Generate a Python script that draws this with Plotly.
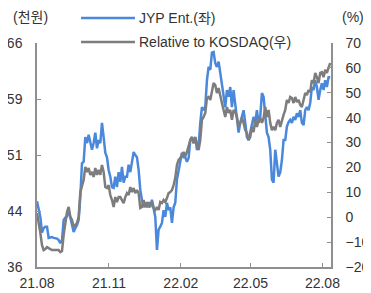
import pandas as pd
import plotly.graph_objects as go

# JYP Ent. share price (thousand KRW, left axis)
jyp = [44.8, 43.6, 42.7, 40.6, 41.2, 41.4, 41.4, 39.9, 40.0, 40.0,
       39.9, 39.9, 39.8, 39.6, 39.2, 39.6, 42.3, 42.6, 42.8, 43.6,
       42.7, 41.9, 40.7, 41.2, 41.6, 42.3, 45.4, 49.9, 50.1, 53.4,
       52.6, 53.7, 52.7, 51.7, 52.6, 54.0, 51.9, 53.0, 52.6, 55.3,
       53.4, 51.3, 50.7, 49.0, 48.1, 46.7, 46.6, 48.1, 46.7, 48.7,
       47.4, 49.4, 47.3, 48.1, 48.1, 49.7, 48.7, 49.9, 51.4, 51.0,
       50.7, 49.0, 46.3, 45.0, 44.0, 44.6, 44.0, 44.7, 44.0, 45.0,
       43.6, 42.7, 38.3, 41.0, 41.4, 41.9, 43.6, 42.7, 44.6, 43.6,
       44.0, 41.9, 44.0, 44.6, 47.7, 49.0, 50.3, 51.3, 50.7, 50.7,
       50.1, 50.6, 53.0, 53.4, 52.6, 53.4, 51.7, 52.1, 55.3, 57.4,
       57.0, 57.4, 61.0, 62.8, 62.4, 64.7, 64.8, 63.3, 62.8, 63.5,
       62.0, 60.6, 59.3, 57.4, 59.7, 58.8, 60.1, 57.4, 59.7, 58.0,
       55.7, 54.0, 55.3, 56.1, 57.0, 55.3, 53.4, 53.0, 54.0, 54.8,
       56.1, 55.3, 57.0, 55.3, 56.1, 59.3, 58.8, 56.4, 54.0, 53.4,
       51.7, 47.7, 47.3, 51.7, 49.7, 48.1, 48.7, 50.3, 53.0, 53.0,
       54.8, 55.4, 55.7, 55.3, 56.1, 55.7, 56.6, 56.1, 57.0, 55.3,
       55.0, 57.0, 57.4, 57.0, 58.0, 60.1, 59.7, 61.0, 60.1, 58.4,
       59.7, 60.6, 59.7, 61.0, 60.1, 61.4, 61.4]

# Relative return vs KOSDAQ (%, right axis)
rel = [1.7, -1.9, -6.3, -11.2, -13.2, -12.8, -12.0, -12.4, -12.8, -13.2,
       -13.2, -13.2, -13.2, -13.2, -14.0, -13.6, -7.1, -3.1, 2.1, 4.1,
       0.1, -1.1, -3.9, -3.1, -2.3, 0.1, 10.1, 12.5, 15.0, 20.2,
       18.2, 19.8, 17.0, 18.2, 16.2, 19.8, 17.0, 19.0, 17.0, 21.0,
       18.2, 12.1, 11.7, 12.9, 8.9, 6.9, 4.1, 8.1, 6.1, 8.1,
       8.1, 6.9, 5.7, 8.1, 9.7, 8.9, 12.1, 10.1, 11.7, 9.7,
       10.9, 9.7, 3.7, 4.1, 6.9, 4.1, 6.1, 4.1, 4.9, 6.1,
       3.7, 2.9, 4.1, 2.9, 6.1, 5.7, 6.9, 6.1, 7.7, 9.7,
       10.1, 10.9, 12.9, 15.8, 21.0, 23.0, 23.8, 25.0, 26.2, 24.6,
       26.2, 28.6, 31.0, 32.2, 29.8, 32.2, 29.0, 27.0, 31.0, 39.1,
       40.3, 41.9, 47.9, 48.3, 47.1, 51.1, 53.9, 53.1, 49.9, 51.9,
       48.3, 45.9, 43.1, 40.3, 44.3, 41.9, 43.1, 39.1, 43.1, 42.3,
       40.3, 36.3, 37.9, 39.9, 37.9, 35.0, 33.8, 31.0, 32.2, 36.3,
       34.2, 39.1, 36.3, 39.1, 39.9, 37.9, 39.9, 44.3, 40.3, 43.1,
       37.9, 35.0, 36.3, 35.0, 37.9, 39.1, 36.3, 39.1, 41.1, 43.1,
       47.1, 45.9, 48.3, 47.9, 45.9, 48.3, 46.3, 47.1, 45.1, 44.3,
       47.1, 49.9, 49.1, 51.1, 50.3, 55.1, 53.9, 58.0, 56.3, 53.9,
       58.0, 58.3, 56.3, 59.2, 58.0, 60.4, 62.0]

dates = pd.date_range("2021-08-01", "2022-08-11", periods=len(jyp))

x_tickvals = ["2021-08-01", "2021-11-01", "2022-02-01", "2022-05-01", "2022-08-01"]
x_ticktext = ["21.08", "21.11", "22.02", "22.05", "22.08"]
left_tickvals = [36, 43.5, 51, 58.5, 66]
left_ticktext = ["36", "44", "51", "59", "66"]
right_tickvals = [-20, -10, 0, 10, 20, 30, 40, 50, 60, 70]

series_names = ["JYP Ent.(좌)", "Relative to KOSDAQ(우)"]
BLUE = "#4a88dc"
GRAY = "#7d7d7d"
AX = "#8f8f8f"
TXT = "#333333"
FONT = "Liberation Sans, Arial, Noto Sans CJK KR, sans-serif"
FS = 14

# the page body has an 8px default margin; size the figure to fill the rest
OFF = 8
W, H = 371 - OFF, 293 - OFF
# plot area in page pixels: x 37..331, y 43..267
L = 37 - OFF
T = 43 - OFF
R = W - (331 - OFF)
B = H - (267 - OFF)
pw, ph = W - L - R, H - T - B


def px(xp):
    return (xp - OFF - L) / pw


def py(yp):
    return (H - B - (yp - OFF)) / ph


fig = go.Figure()
fig.add_trace(go.Scatter(x=dates, y=jyp, mode="lines", name=series_names[0],
                         line=dict(color=BLUE, width=2.5), yaxis="y"))
fig.add_trace(go.Scatter(x=dates, y=rel, mode="lines", name=series_names[1],
                         line=dict(color=GRAY, width=2.5), yaxis="y2"))

fig.update_layout(
    width=W, height=H,
    margin=dict(l=L, r=R, t=T, b=B, autoexpand=False),
    paper_bgcolor="white", plot_bgcolor="white",
    showlegend=False,
    font=dict(family=FONT, size=FS, color=TXT),
    xaxis=dict(
        type="date", range=["2021-08-01", "2022-08-12"],
        tickvals=x_tickvals, ticktext=x_ticktext,
        showgrid=False, zeroline=False, automargin=False,
        showline=True, linecolor=AX, linewidth=1.5,
        ticks="inside", ticklen=4, tickcolor=AX, tickwidth=1,
        ticklabelstandoff=2,
        tickfont=dict(size=FS, color=TXT),
    ),
    yaxis=dict(
        range=[36, 66], tickvals=left_tickvals, ticktext=left_ticktext,
        showgrid=False, zeroline=False, automargin=False,
        showline=True, linecolor=AX, linewidth=1.5,
        ticks="inside", ticklen=4, tickcolor=AX, tickwidth=1,
        ticklabelstandoff=10,
        tickfont=dict(size=FS, color=TXT),
    ),
    yaxis2=dict(
        range=[-20, 70], tickvals=right_tickvals,
        overlaying="y", side="right",
        showgrid=False, zeroline=False, automargin=False,
        showline=True, linecolor=AX, linewidth=1.5,
        ticks="inside", ticklen=4, tickcolor=AX, tickwidth=1,
        ticklabelstandoff=10,
        tickfont=dict(size=FS, color=TXT),
    ),
)

# legend (drawn manually to match the reference)
legend_rows = [(18, BLUE, series_names[0]), (42, GRAY, series_names[1])]
for yp, col, name in legend_rows:
    fig.add_shape(type="line", xref="paper", yref="paper",
                  x0=px(81), x1=px(135), y0=py(yp), y1=py(yp),
                  line=dict(color=col, width=2.5))
    fig.add_annotation(xref="paper", yref="paper", x=px(137), y=py(yp),
                       text=name, showarrow=False, xanchor="left", yanchor="middle",
                       font=dict(size=FS, color=TXT))

fig.add_annotation(xref="paper", yref="paper", x=px(30), y=py(17), text="(천원)",
                   showarrow=False, xanchor="center", yanchor="middle",
                   font=dict(size=FS, color=TXT))
fig.add_annotation(xref="paper", yref="paper", x=px(353), y=py(17), text="(%)",
                   showarrow=False, xanchor="center", yanchor="middle",
                   font=dict(size=FS, color=TXT))

fig.write_html("out.html")
